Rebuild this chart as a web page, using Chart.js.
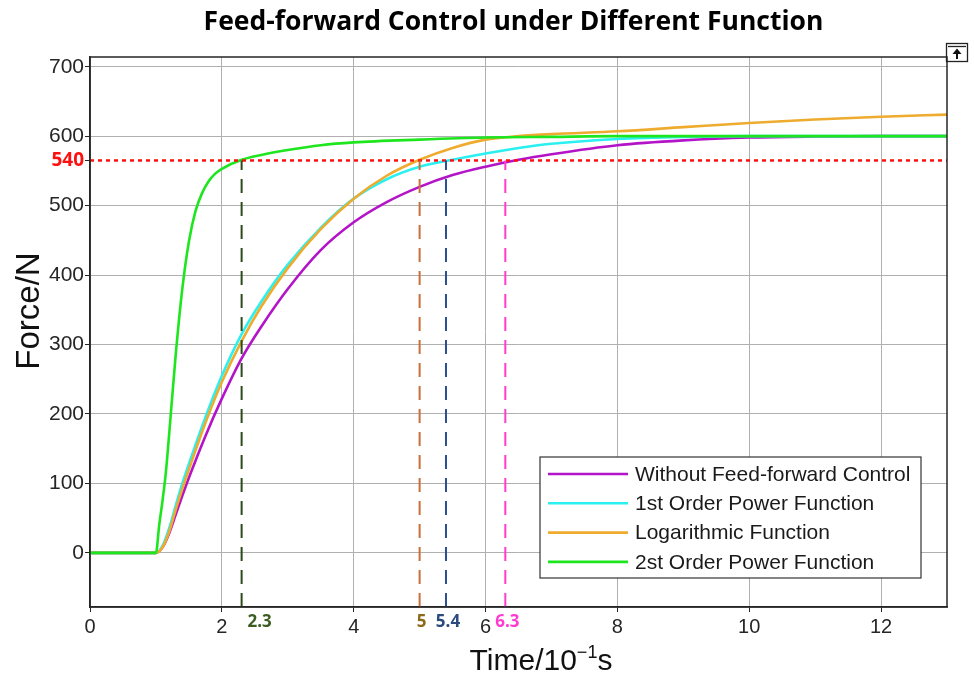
<!DOCTYPE html>
<html>
<head>
<meta charset="utf-8">
<script src="https://cdn.jsdelivr.net/npm/chart.js@4.4.0/dist/chart.umd.min.js"></script>
<style>
  html, body { margin: 0; padding: 0; background: #fff; }
</style>
</head>
<body>
<canvas id="force-chart" width="974" height="676"></canvas>
<script>
/* Curves: time in 10^-1 s, force in N */
let withoutTime = [0, 1, 1.1, 1.2, 1.3, 1.4, 1.5, 1.75, 2, 2.3, 2.6, 3, 3.5, 4, 4.5, 5, 5.5, 6, 6.5, 7, 8, 9, 10, 11, 12, 13]
let withoutForce = [0, 0, 8, 28, 55, 82, 108, 168, 222, 280, 326, 380, 436, 476, 505, 527, 544, 556, 566, 574, 587, 594, 598, 599.5, 600, 600]

let firstOrderTime = [0, 1, 1.1, 1.2, 1.3, 1.4, 1.5, 1.75, 2, 2.3, 2.6, 3, 3.5, 4, 4.5, 5, 5.5, 6, 6.5, 7, 8, 9, 10, 11, 12, 13]
let firstOrderForce = [0, 0, 10, 35, 68, 100, 128, 195, 255, 315, 362, 415, 468, 510, 538, 556, 566, 575, 583, 589, 596, 599, 600, 600, 600, 600]

let logTime = [0, 1, 1.1, 1.2, 1.3, 1.4, 1.5, 1.75, 2, 2.3, 2.6, 3, 3.5, 4, 4.5, 5, 5.5, 6, 6.5, 7, 8, 9, 10, 11, 12, 13]
let logForce = [0, 0, 8, 30, 62, 92, 120, 187, 246, 305, 355, 410, 466, 510, 543, 566, 583, 595, 600, 603, 607, 613, 619, 624, 628, 631]

let secondOrderTime = [0, 1, 1.05, 1.1, 1.15, 1.2, 1.3, 1.4, 1.5, 1.6, 1.7, 1.8, 1.9, 2, 2.3, 2.6, 3, 3.5, 4, 5, 6, 7, 8, 13]
let secondOrderForce = [0, 0, 40, 75, 115, 170, 285, 380, 448, 492, 518, 535, 546, 553, 566, 573, 580, 587, 591, 595, 598, 599, 600, 600]

let curveNames = ['Without Feed-forward Control', '1st Order Power Function', 'Logarithmic Function', '2st Order Power Function']
let curveColors = ['#b414c8', '#2af0f0', '#eeab2e', '#1ee61e']

/* Threshold line: drawn at the level shown in the figure, labelled 540 there */
let thresholdForce = 565
let thresholdLabel = '540'

/* Times where each curve crosses the threshold */
let crossTimes = [2.3, 5, 5.4, 6.3]
let crossLabels = ['2.3', '5', '5.4', '6.3']
let crossLineColors = ['#2c4a1c', '#c8703a', '#2c4f94', '#ff3ccd']
let crossTextColors = ['#3b5e22', '#8b6a1a', '#2b4a7e', '#ff3ccf']

let xTickValues = [0, 2, 4, 6, 8, 10, 12]
let yTickValues = [0, 100, 200, 300, 400, 500, 600, 700]

let xMin = 0, xMax = 13
let yMin = -78, yMax = 714

function toPoints(xs, ys) {
    return xs.map((x, i) => ({ x: x, y: ys[i] }))
}

let datasets = []

// threshold crossings (dashed, drawn on top of curves)
crossTimes.forEach((t, i) => {
    datasets.push({
        data: toPoints([t, t], [yMin, thresholdForce]),
        borderColor: crossLineColors[i],
        borderWidth: 2,
        borderDash: [14, 9],
        pointRadius: 0,
        order: 0
    })
})

// red dotted threshold
datasets.push({
    data: toPoints([xMin, xMax], [thresholdForce, thresholdForce]),
    borderColor: '#ff1010',
    borderWidth: 2.5,
    borderDash: [4, 4],
    pointRadius: 0,
    order: 1
})

let curveTimes = [withoutTime, firstOrderTime, logTime, secondOrderTime]
let curveForces = [withoutForce, firstOrderForce, logForce, secondOrderForce]
curveNames.forEach((name, i) => {
    datasets.push({
        label: name,
        inLegend: true,
        data: toPoints(curveTimes[i], curveForces[i]),
        borderColor: curveColors[i],
        borderWidth: 2.6,
        pointRadius: 0,
        cubicInterpolationMode: 'monotone',
        order: 5 - i
    })
})

let axisFont = '"Liberation Sans", Arial, sans-serif'
let textColor = '#262626'

/* Title, axis titles, crossing labels, frame, box legend */
let decorPlugin = {
    id: 'decor',
    afterDraw(chart) {
        let ctx = chart.ctx
        let area = chart.chartArea
        let xScale = chart.scales.x
        ctx.save()

        // box around the axes
        ctx.strokeStyle = textColor
        ctx.lineWidth = 1.5
        ctx.strokeRect(area.left, area.top, area.right - area.left, area.bottom - area.top)

        // title
        ctx.fillStyle = '#000'
        ctx.font = 'bold 26.5px "Open Sans", sans-serif'
        ctx.textAlign = 'center'
        ctx.textBaseline = 'middle'
        ctx.fillText('Feed-forward Control under Different Function', (area.left + area.right) / 2 - 5, 22)

        // y axis title
        ctx.save()
        ctx.translate(30, 311)
        ctx.rotate(-Math.PI / 2)
        ctx.font = '33px ' + axisFont
        ctx.fillStyle = '#111'
        ctx.fillText('Force/N', 0, 0)
        ctx.restore()

        // x axis title with superscript
        ctx.fillStyle = '#111'
        ctx.textAlign = 'left'
        ctx.textBaseline = 'alphabetic'
        let big = '30px ' + axisFont
        let small = '18px ' + axisFont
        ctx.font = big
        let w1 = ctx.measureText('Time/10').width
        let w3 = ctx.measureText('s').width
        ctx.font = small
        let w2 = ctx.measureText('\u22121').width
        let startX = 541 - (w1 + w2 + w3) / 2
        let base = 670
        ctx.font = big
        ctx.fillText('Time/10', startX, base)
        ctx.font = small
        ctx.fillText('\u22121', startX + w1, base - 12)
        ctx.font = big
        ctx.fillText('s', startX + w1 + w2, base)

        // crossing labels under the axis
        ctx.font = 'bold 17px "Open Sans", sans-serif'
        ctx.textAlign = 'center'
        ctx.textBaseline = 'middle'
        crossLabels.forEach((lab, i) => {
            let px = xScale.getPixelForValue(crossTimes[i])
            if (i === 0) px += 16   // moved clear of the "2" tick label
            ctx.fillStyle = crossTextColors[i]
            ctx.fillText(lab, px + 2, area.bottom + 15)
        })

        // legend box, lower right inside the axes
        let items = chart.data.datasets.filter(d => d.inLegend)
        let boxW = 381, rowH = 29.3
        let boxH = 121
        let bx = area.right - 26 - boxW
        let by = area.bottom - 29 - boxH
        ctx.fillStyle = '#fff'
        ctx.fillRect(bx, by, boxW, boxH)
        ctx.strokeStyle = '#333'
        ctx.lineWidth = 1.2
        ctx.strokeRect(bx, by, boxW, boxH)
        ctx.font = '21px ' + axisFont
        ctx.textAlign = 'left'
        ctx.textBaseline = 'middle'
        items.forEach((d, i) => {
            let y = by + 17 + i * rowH
            ctx.strokeStyle = d.borderColor
            ctx.lineWidth = 2.6
            ctx.beginPath()
            ctx.moveTo(bx + 8, y)
            ctx.lineTo(bx + 88, y)
            ctx.stroke()
            ctx.fillStyle = '#1a1a1a'
            ctx.fillText(d.label, bx + 95, y + 1)
        })

        // small toolbar icon at the top right corner
        ctx.strokeStyle = '#222'
        ctx.lineWidth = 1.3
        ctx.strokeRect(946.5, 43.5, 21, 18)
        ctx.beginPath()
        ctx.moveTo(948, 46.5); ctx.lineTo(966, 46.5)
        ctx.stroke()
        ctx.fillStyle = '#111'
        ctx.beginPath()
        ctx.moveTo(957, 48.5); ctx.lineTo(952.5, 54); ctx.lineTo(961.5, 54)
        ctx.closePath()
        ctx.fill()
        ctx.fillRect(956, 53, 2, 6)

        ctx.restore()
    }
}

let chartCanvas = document.querySelector('#force-chart')
let ctx = chartCanvas.getContext('2d')

let forceChart = new Chart(ctx, {
    type: 'line',
    data: { datasets: datasets },
    options: {
        responsive: false,
        animation: false,
        devicePixelRatio: 1,
        layout: { padding: { top: 57, right: 27, left: 0, bottom: 0 } },
        plugins: {
            legend: { display: false },
            title: { display: false },
            tooltip: { enabled: false }
        },
        scales: {
            x: {
                type: 'linear',
                min: xMin,
                max: xMax,
                afterBuildTicks: scale => { scale.ticks = xTickValues.map(v => ({ value: v })) },
                afterFit: scale => { scale.height = 69 },
                ticks: {
                    autoSkip: false,
                    maxRotation: 0,
                    color: textColor,
                    font: { family: axisFont, size: 20 },
                    padding: 3
                },
                grid: { color: '#b0b0b0', lineWidth: 1, tickLength: 5, tickColor: textColor },
                border: { color: textColor, width: 1.5 }
            },
            y: {
                type: 'linear',
                min: yMin,
                max: yMax,
                afterBuildTicks: scale => {
                    scale.ticks = yTickValues.concat([thresholdForce]).sort((a, b) => a - b).map(v => ({ value: v }))
                },
                afterFit: scale => { scale.width = 90 },
                ticks: {
                    autoSkip: false,
                    color: c => c.tick && c.tick.value === thresholdForce ? '#ff1010' : textColor,
                    font: c => c.tick && c.tick.value === thresholdForce
                        ? { family: '"Open Sans", sans-serif', size: 19, weight: 'bold' }
                        : { family: axisFont, size: 21 },
                    padding: 1,
                    callback: v => v === thresholdForce ? thresholdLabel : v
                },
                grid: {
                    color: c => c.tick && c.tick.value === thresholdForce ? 'rgba(0,0,0,0)' : '#b0b0b0',
                    lineWidth: 1,
                    tickLength: 5,
                    tickColor: textColor
                },
                border: { color: textColor, width: 1.5 }
            }
        }
    },
    plugins: [decorPlugin]
})
</script>
</body>
</html>
